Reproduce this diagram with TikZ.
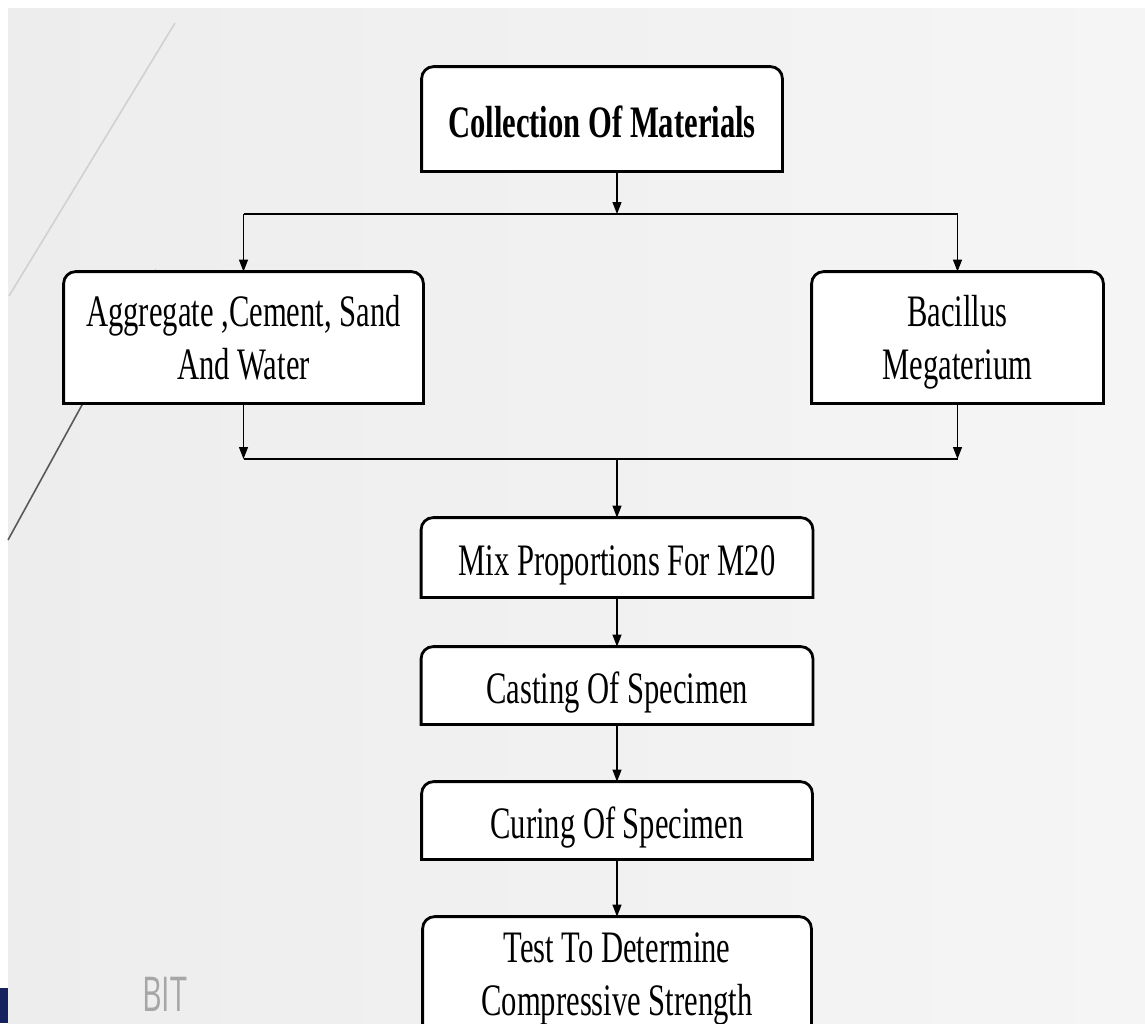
\documentclass[tikz,border=0pt]{standalone}
\usepackage{fontspec}
\setmainfont{Liberation Serif}[FakeStretch=0.68]
\newfontfamily\logofont{Open Sans}[FakeStretch=0.63]
\usetikzlibrary{arrows.meta, positioning, backgrounds}

\definecolor{slideleft}{HTML}{EDEDED}
\definecolor{slideright}{HTML}{F5F5F5}
\definecolor{navy}{HTML}{14235E}

\tikzset{
  stage/.style={align=center, inner sep=0pt, font=\fontsize{22.5}{26.5}\selectfont},
  oneline/.style={stage, text height=18pt, text depth=0pt},
  twoline/.style={stage, text depth=-5pt},
  frame/.style={draw=black, fill=white, line width=1.4pt},
  flow/.style={-{Triangle[length=6pt,width=4.5pt]}, line width=0.6pt},
  busline/.style={line width=0.6pt}
}

% box with rounded top corners only
\newcommand{\topround}[1]{%
  \filldraw[frame] (#1.south west) -- ([yshift=-6pt]#1.north west)
    arc[start angle=180,end angle=90,radius=6pt] -- ([xshift=-6pt]#1.north east)
    arc[start angle=90,end angle=0,radius=6pt] -- (#1.south east) -- cycle;}

\begin{document}
\begin{tikzpicture}[x=0.5pt,y=-0.5pt]
   \useasboundingbox (0,0) rectangle (1145,1023);

   % Nodes
      \node[oneline, minimum width=180pt, minimum height=52pt]     (collect) at (602,119)   {\bfseries Collection Of Materials};
      \node[twoline, minimum width=179.5pt, minimum height=65.5pt] (mats)  at (243.5,337.5) {Aggregate ,Cement, Sand\\And Water};
      \node[twoline, minimum width=145.5pt, minimum height=65.5pt] (bacil) at (957.5,337.5) {Bacillus\\Megaterium};
      \node[oneline, minimum width=195.5pt, minimum height=39.5pt] (mix)   at (617,557.5) {Mix Proportions For M20};
      \node[oneline, minimum width=195.5pt, minimum height=38.5pt] (cast)  at (617,685.5) {Casting Of Specimen};
      \node[oneline, minimum width=195pt,   minimum height=38.5pt] (cure)  at (617,820.5) {Curing Of Specimen};
      \node[stage,   minimum width=194pt,   minimum height=62pt]   (test)  at (617,979)   {Test To Determine\\Compressive Strength};

      \node[anchor=north west, inner sep=0pt, text=gray!70, font=\logofont\fontsize{24}{26}\selectfont] (logo) at (142,977) {BIT};

   % Junctions
      \coordinate (split) at (617,214);
      \coordinate (merge) at (617,459);

   % Paths
      \draw[flow] (collect.south -| split) -- (split);
      \draw[busline] (mats.north |- split) -- (bacil.north |- split);
      \draw[flow] (mats.north |- split) -- (mats.north);
      \draw[flow] (bacil.north |- split) -- (bacil.north);
      \draw[flow] (mats.south) -- (mats.south |- merge);
      \draw[flow] (bacil.south) -- (bacil.south |- merge);
      \draw[busline] (mats.south |- merge) -- (bacil.south |- merge);
      \draw[flow] (merge) -- (mix.north);
      \draw[flow] (mix) -- (cast);
      \draw[flow] (cast) -- (cure);
      \draw[flow] (cure) -- (test);

   % Slide behind
   \begin{pgfonlayer}{background}
      \clip (0,0) rectangle (1145,1023);
      \fill[white] (0,0) rectangle (1145,1023);
      \shade[left color=slideleft, right color=slideright] (8,8) rectangle (1145,1023);
      \draw[black!18, line width=0.8pt] (175,23) -- (9,296);
      \draw[black!65, line width=0.8pt] (156,270) -- (8,540);
      \fill[navy] (0,988) rectangle (8,1023);
      \foreach \n in {collect,mats,bacil,mix,cast,cure,test} {\topround{\n}}
   \end{pgfonlayer}
\end{tikzpicture}
\end{document}
